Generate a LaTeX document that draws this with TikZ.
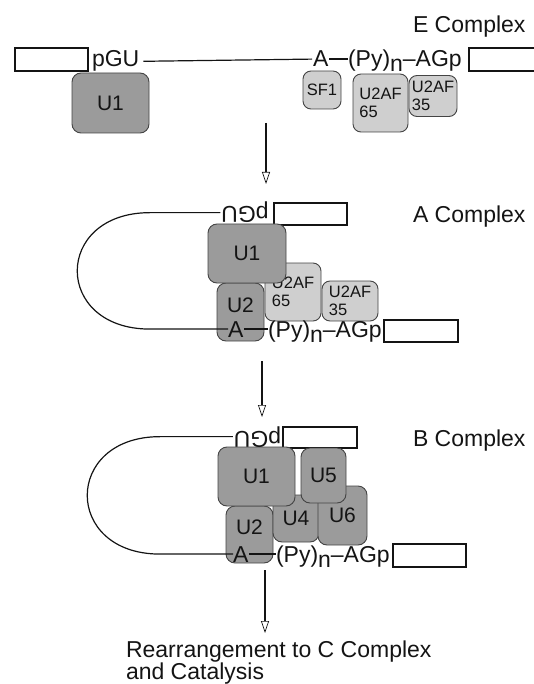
\documentclass[tikz,border=0pt]{standalone}
\usepackage{fontspec}
\setmainfont{Liberation Sans}
\usetikzlibrary{arrows.meta}
\definecolor{snrGray}{HTML}{9B9B9B}
\definecolor{facGray}{HTML}{CFCFCF}
\definecolor{edgeGray}{HTML}{444444}
\definecolor{inkc}{HTML}{141414}
\tikzset{
  lbl/.style={font=\fontsize{23}{25}\selectfont, inner sep=0pt, outer sep=0pt, text=inkc},
  exon/.style={draw=inkc, line width=1.2pt, fill=white, inner sep=0pt},
  snrnp/.style={draw=edgeGray, line width=0.9pt, fill=snrGray, rounded corners=9pt, inner sep=0pt, text=inkc, font=\fontsize{21}{23}\selectfont},
  lowlbl/.style={text height=15pt, text depth=15pt},
  factor/.style={draw=edgeGray, line width=0.9pt, fill=facGray, rounded corners=8pt, inner sep=0pt, text=inkc, align=left, font=\fontsize{16.5}{18.5}\selectfont},
  seq/.style={line width=1.2pt, draw=inkc},
  flow/.style={line width=2.6pt, draw=inkc, -{Triangle[open, length=12pt, width=8pt, line width=0.7pt]}},
}
\begin{document}
\begin{tikzpicture}[x=1pt,y=-1pt]
\useasboundingbox (0,0) rectangle (534,684);
\clip (0,0) rectangle (534,684);

% ---------------- E complex ----------------
\node[lbl, anchor=base west] (tE) at (413,33) {E Complex};
\node[exon, minimum width=73pt, minimum height=23pt] (exLE) at (51.5,59.5) {};
\node[exon, minimum width=76pt, minimum height=23pt] (exRE) at (507,59.5) {};
\node[snrnp, minimum width=77pt, minimum height=60pt] (u1E) at (110.5,103) {U1};
\node[factor, minimum width=38pt, minimum height=38pt] (sf1) at (322,90) {SF1};
\node[factor, minimum width=55pt, minimum height=58pt] (u65E) at (380.5,103) {U2AF\\65};
\node[factor, minimum width=48pt, minimum height=41pt] (u35E) at (433,96) {U2AF\\35};
\node[lbl, anchor=base west] (pguE) at (92,67) {pGU};
\node[lbl, anchor=base west] (aE) at (313,67) {A};
\node[lbl, anchor=base west] (pyE) at (348,67) {(Py)\raisebox{-5pt}{n}–AGp};
\draw[seq, shorten <=4pt, shorten >=1pt] (pguE.east) -- (aE.west);
\draw[seq, shorten <=1pt] (aE.east) -- (aE.east -| pyE.west);

\coordinate (f1s) at (266,123);
\coordinate (f1e) at (266,184);
\draw[flow] (f1s) -- (f1e);

% ---------------- A complex ----------------
\node[lbl, anchor=base west] (tA) at (413,223) {A Complex};
\node[exon, minimum width=73pt, minimum height=22pt] (exTA) at (310.5,214) {};
\node[exon, minimum width=74pt, minimum height=22pt] (exBA) at (421,331) {};
\node[factor, minimum width=56pt, minimum height=58pt] (u65A) at (293,292) {U2AF\\65};
\node[factor, minimum width=56pt, minimum height=40pt] (u35A) at (350,301) {U2AF\\35};
\node[snrnp, lowlbl, minimum width=47pt, minimum height=58pt] (u2A) at (240.5,312) {U2};
\node[snrnp, minimum width=78pt, minimum height=59pt] (u1A) at (247,253.5) {U1};
\node[lbl, rotate=180, anchor=base] (pguA) at (245,207) {pGU};
\node[lbl, anchor=base west] (aA) at (228,337) {A};
\node[lbl, anchor=base west] (pyA) at (268,337) {(Py)\raisebox{-5pt}{n}–AGp};
\coordinate (lA) at (150,0);
\draw[seq, shorten <=1pt] (pguA.east) -- (pguA.east -| lA)
  .. controls +(-97,0) and +(-97,0) .. (aA.west -| lA) -- (aA.west);
\draw[seq, shorten <=1pt] (aA.east) -- (aA.east -| pyA.west);

\coordinate (f2s) at (262,361);
\coordinate (f2e) at (262,417);
\draw[flow] (f2s) -- (f2e);

% ---------------- B complex ----------------
\node[lbl, anchor=base west] (tB) at (413,446) {B Complex};
\node[exon, minimum width=74pt, minimum height=21pt] (exTB) at (320,437.5) {};
\node[exon, minimum width=73pt, minimum height=23pt] (exBB) at (429.5,555.5) {};
\node[snrnp, lowlbl, minimum width=47pt, minimum height=57pt] (u2B) at (249.5,534.5) {U2};
\node[snrnp, minimum width=46pt, minimum height=47pt] (u4B) at (296,518.5) {U4};
\node[snrnp, minimum width=49pt, minimum height=59pt] (u6B) at (342.5,515.5) {U6};
\node[snrnp, minimum width=77pt, minimum height=59pt] (u1B) at (256.5,476.5) {U1};
\node[snrnp, minimum width=45pt, minimum height=55pt] (u5B) at (323.5,475.5) {U5};
\node[lbl, rotate=180, anchor=base] (pguB) at (257.5,431) {pGU};
\node[lbl, anchor=base west] (aB) at (233,562) {A};
\node[lbl, anchor=base west] (pyB) at (276,562) {(Py)\raisebox{-5pt}{n}–AGp};
\coordinate (lB) at (160,0);
\draw[seq, shorten <=1pt] (pguB.east) -- (pguB.east -| lB)
  .. controls +(-97,0) and +(-97,0) .. (aB.west -| lB) -- (aB.west);
\draw[seq, shorten <=1pt] (aB.east) -- (aB.east -| pyB.west);

\coordinate (f3s) at (265,570);
\coordinate (f3e) at (265,633);
\draw[flow] (f3s) -- (f3e);

% ---------------- final ----------------
\node[lbl, anchor=base west] (rc1) at (126,657) {Rearrangement to C Complex};
\node[lbl, anchor=base west] (rc2) at (126,679) {and Catalysis};
\end{tikzpicture}
\end{document}
